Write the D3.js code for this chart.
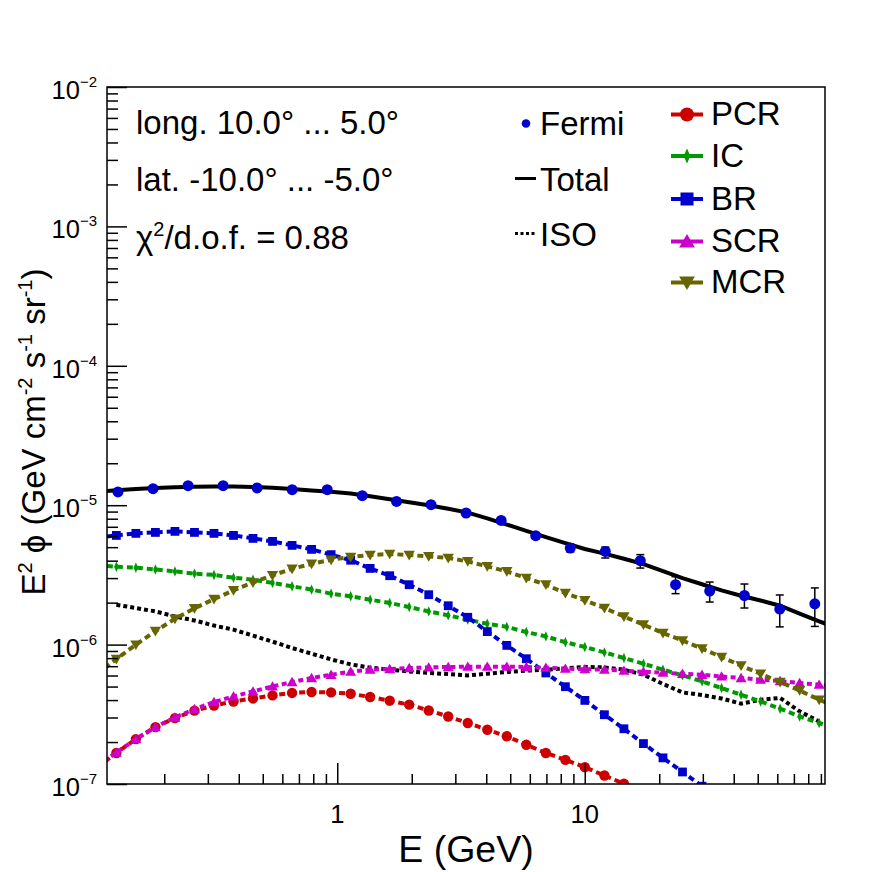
<!DOCTYPE html>
<html><head><meta charset="utf-8">
<script src="https://cdn.jsdelivr.net/npm/d3@7"></script>
<style>
body{margin:0;background:#fff}
svg{display:block}
text{font-family:"Liberation Sans",Arial,Helvetica,sans-serif;fill:#000}
</style>
</head><body>
<svg id="c" width="896" height="872"></svg>
<script>
// ---------------- data ----------------
const energies = [0.1069,0.1281,0.1536,0.1842,0.2209,0.2649,0.3177,0.3809,0.4567,0.5477,0.6568,0.7876,0.9445,1.133,1.358,1.629,1.953,2.342,2.808,3.368,4.039,4.843,5.808,6.965,8.352,10.01,12.01,14.40,17.27,20.71,24.83,29.78,35.71,42.82,51.35,61.57,73.83,88.54,106.2];
const totalVals = [1.250e-5,1.281e-5,1.307e-5,1.329e-5,1.344e-5,1.355e-5,1.362e-5,1.362e-5,1.353e-5,1.335e-5,1.307e-5,1.277e-5,1.248e-5,1.211e-5,1.160e-5,1.102e-5,1.049e-5,9.98e-6,9.42e-6,8.85e-6,8.04e-6,7.26e-6,6.54e-6,5.91e-6,5.34e-6,4.85e-6,4.49e-6,4.13e-6,3.78e-6,3.36e-6,3.00e-6,2.71e-6,2.45e-6,2.24e-6,2.07e-6,1.90e-6,1.67e-6,1.47e-6,1.30e-6];
const isoVals = [null,1.93e-6,1.83e-6,1.73e-6,1.59e-6,1.49e-6,1.37e-6,1.28e-6,1.16e-6,1.05e-6,9.45e-7,8.61e-7,7.83e-7,7.21e-7,6.83e-7,6.61e-7,6.42e-7,6.26e-7,6.15e-7,6.01e-7,6.18e-7,6.36e-7,6.50e-7,6.61e-7,6.75e-7,6.91e-7,6.86e-7,6.61e-7,6.08e-7,5.22e-7,4.54e-7,4.35e-7,4.11e-7,3.77e-7,4.02e-7,4.14e-7,3.32e-7,2.81e-7,null];
const pcrVals = [1.31e-7,1.67e-7,2.10e-7,2.56e-7,2.97e-7,3.36e-7,3.66e-7,3.91e-7,4.11e-7,4.32e-7,4.50e-7,4.57e-7,4.54e-7,4.44e-7,4.21e-7,3.96e-7,3.71e-7,3.37e-7,3.05e-7,2.74e-7,2.45e-7,2.20e-7,1.91e-7,1.67e-7,1.49e-7,1.32e-7,1.15e-7,1.005e-7,8.81e-8,7.72e-8,null,null,null,null,null,null,null,null,null];
const icVals = [3.72e-6,3.62e-6,3.56e-6,3.46e-6,3.35e-6,3.23e-6,3.16e-6,3.02e-6,2.92e-6,2.77e-6,2.62e-6,2.48e-6,2.32e-6,2.22e-6,2.10e-6,1.99e-6,1.86e-6,1.73e-6,1.62e-6,1.51e-6,1.41e-6,1.34e-6,1.23e-6,1.145e-6,1.04e-6,9.61e-7,8.79e-7,8.01e-7,7.29e-7,6.61e-7,6.01e-7,5.45e-7,4.88e-7,4.37e-7,3.91e-7,3.47e-7,3.05e-7,2.74e-7,2.45e-7];
const brVals = [5.87e-6,6.07e-6,6.28e-6,6.38e-6,6.49e-6,6.38e-6,6.28e-6,6.07e-6,5.78e-6,5.50e-6,5.15e-6,4.82e-6,4.42e-6,4.03e-6,3.52e-6,3.12e-6,2.69e-6,2.28e-6,1.90e-6,1.57e-6,1.24e-6,9.87e-7,7.92e-7,6.26e-7,4.99e-7,3.98e-7,3.14e-7,2.49e-7,1.95e-7,1.54e-7,1.22e-7,9.64e-8,7.72e-8,null,null,null,null,null,null];
const scrVals = [1.35e-7,1.68e-7,2.10e-7,2.56e-7,3.00e-7,3.45e-7,3.87e-7,4.25e-7,4.62e-7,5.01e-7,5.39e-7,5.76e-7,6.08e-7,6.39e-7,6.61e-7,6.68e-7,6.79e-7,6.86e-7,6.91e-7,6.94e-7,6.94e-7,6.94e-7,6.91e-7,6.83e-7,6.72e-7,6.66e-7,6.61e-7,6.50e-7,6.39e-7,6.29e-7,6.18e-7,6.08e-7,5.91e-7,5.76e-7,5.60e-7,5.48e-7,5.30e-7,5.16e-7,4.99e-7];
const mcrVals = [6.13e-7,7.88e-7,9.98e-7,1.25e-6,1.53e-6,1.82e-6,2.12e-6,2.45e-6,2.79e-6,3.14e-6,3.50e-6,3.79e-6,4.06e-6,4.25e-6,4.39e-6,4.47e-6,4.39e-6,4.29e-6,4.18e-6,3.95e-6,3.64e-6,3.35e-6,3.00e-6,2.69e-6,2.34e-6,2.08e-6,1.83e-6,1.59e-6,1.39e-6,1.21e-6,1.07e-6,9.35e-7,8.15e-7,7.06e-7,6.18e-7,5.39e-7,4.69e-7,4.02e-7,3.53e-7];

const fermiE = [0.1300,0.1802,0.2496,0.3458,0.4746,0.6577,0.911,1.262,1.736,2.393,3.316,4.595,6.337,8.738,12.11,16.77,23.28,31.98,44.18,61.38,85.04];
const fermiVals = [1.244e-5,1.314e-5,1.380e-5,1.380e-5,1.329e-5,1.292e-5,1.292e-5,1.170e-5,1.065e-5,1.008e-5,8.79e-6,7.78e-6,6.04e-6,4.93e-6,4.66e-6,4.00e-6,2.69e-6,2.42e-6,2.25e-6,1.80e-6,1.96e-6];
const fermiLo = [1.22e-5,1.29e-5,1.355e-5,1.355e-5,1.305e-5,1.265e-5,1.265e-5,1.145e-5,1.04e-5,9.8e-6,8.5e-6,7.5e-6,5.75e-6,4.62e-6,4.18e-6,3.54e-6,2.32e-6,2.02e-6,1.83e-6,1.34e-6,1.35e-6];
const fermiHi = [1.27e-5,1.34e-5,1.405e-5,1.405e-5,1.355e-5,1.32e-5,1.32e-5,1.195e-5,1.09e-5,1.036e-5,9.08e-6,8.06e-6,6.33e-6,5.27e-6,5.01e-6,4.42e-6,3.07e-6,2.81e-6,2.72e-6,2.27e-6,2.55e-6];

const yMajorTicks = [1e-7,1e-6,1e-5,1e-4,1e-3,1e-2];
const yTickExponents = ["\u22127","\u22126","\u22125","\u22124","\u22123","\u22122"];
const xMajorTicks = [1,10];
const xTickLabels = ["1","10"];

const infoLines = ["long. 10.0\u00b0 ... 5.0\u00b0","lat. -10.0\u00b0 ... -5.0\u00b0"];
const chiText = "0.88";
const leftLegend = ["Fermi","Total","ISO"];
const compNames = ["PCR","IC","BR","SCR","MCR"];
const compColors = ["#cc0000","#009900","#0000cc","#cc00cc","#666600"];

// ---------------- layout ----------------
const W = 896, H = 872;
const P = {left:107, right:825, top:87, bottom:784};
const x = d3.scaleLog().domain([0.1174, 93.5]).range([P.left, P.right]);
const y = d3.scaleLog().domain([1e-7, 1e-2]).range([P.bottom, P.top]);

const svg = d3.select("#c");
svg.append("rect").attr("width", W).attr("height", H).attr("fill", "#fff");
svg.append("defs").append("clipPath").attr("id", "clip")
  .append("rect").attr("x", P.left).attr("y", P.top)
  .attr("width", P.right - P.left).attr("height", P.bottom - P.top);

function markerPath(type, s) {
  const p = d3.path();
  if (type === "circle") { p.arc(0, 0, s, 0, 2 * Math.PI); }
  else if (type === "square") { p.rect(-s, -s, 2 * s, 2 * s); }
  else if (type === "triUp") { p.moveTo(0, -s); p.lineTo(s * 1.05, s * 0.8); p.lineTo(-s * 1.05, s * 0.8); p.closePath(); }
  else if (type === "triDown") { p.moveTo(0, s); p.lineTo(s * 1.05, -s * 0.8); p.lineTo(-s * 1.05, -s * 0.8); p.closePath(); }
  else if (type === "diamond") { p.moveTo(0, -s); p.lineTo(s * 0.45, 0); p.lineTo(0, s); p.lineTo(-s * 0.45, 0); p.closePath(); }
  return p.toString();
}

const comps = [
  {vals: pcrVals, color: compColors[0], m: "circle", s: 5.2, ls: 7, dash: "6,4"},
  {vals: icVals,  color: compColors[1], m: "diamond", s: 5.2, ls: 7.5, dash: "6,4"},
  {vals: brVals,  color: compColors[2], m: "square", s: 4.4, ls: 6.5, dash: "6,4"},
  {vals: scrVals, color: compColors[3], m: "triUp", s: 5.2, ls: 7.5, dash: "5,3.5"},
  {vals: mcrVals, color: compColors[4], m: "triDown", s: 5.4, ls: 7.5, dash: "6,4"}
];

const plotG = svg.append("g").attr("clip-path", "url(#clip)");
const line = d3.line().defined(d => d[1] != null).x(d => x(d[0])).y(d => y(d[1]));

// ISO
plotG.append("path")
  .attr("d", line(energies.map((e, i) => [e, isoVals[i]])))
  .attr("fill", "none").attr("stroke", "#000").attr("stroke-width", 4)
  .attr("stroke-dasharray", "4,3");

// components
comps.forEach(c => {
  const pts = energies.map((e, i) => [e, c.vals[i]]);
  plotG.append("path").attr("d", line(pts))
    .attr("fill", "none").attr("stroke", c.color).attr("stroke-width", 4)
    .attr("stroke-dasharray", c.dash);
  plotG.selectAll(null).data(pts.filter(d => d[1] != null)).enter()
    .append("path")
    .attr("transform", d => `translate(${x(d[0])},${y(d[1])})`)
    .attr("d", markerPath(c.m, c.s))
    .attr("fill", c.color);
});

// Total
plotG.append("path")
  .attr("d", line(energies.map((e, i) => [e, totalVals[i]])))
  .attr("fill", "none").attr("stroke", "#000").attr("stroke-width", 4);

// Fermi with error bars
const fG = plotG.append("g");
fermiE.forEach((e, i) => {
  const cx = x(e), yl = y(fermiLo[i]), yh = y(fermiHi[i]);
  fG.append("line").attr("x1", cx).attr("x2", cx).attr("y1", yl).attr("y2", yh)
    .attr("stroke", "#000").attr("stroke-width", 1.5);
  [yl, yh].forEach(yy => fG.append("line").attr("x1", cx - 4).attr("x2", cx + 4)
    .attr("y1", yy).attr("y2", yy).attr("stroke", "#000").attr("stroke-width", 1.5));
});
fG.selectAll(null).data(fermiE).enter().append("circle")
  .attr("cx", d => x(d)).attr("cy", (d, i) => y(fermiVals[i])).attr("r", 5.5)
  .attr("fill", "#0000cc");

// ---------------- axes ----------------
const yMinor = [];
for (let e = -7; e < -2; e++) for (let m = 2; m <= 9; m++) yMinor.push(m * Math.pow(10, e));
const xMinor = [];
[0.1, 1, 10].forEach(d => { for (let m = 2; m <= 9; m++) { const v = m * d; if (v > 0.1174 && v < 93.5) xMinor.push(v); } });

const axG = svg.append("g");
function styleAxis(g) {
  g.selectAll(".domain").remove();
  g.selectAll(".tick line").attr("stroke", "#000").attr("stroke-width", 1.5);
  g.selectAll("text").remove();
}
axG.append("g").attr("transform", `translate(${P.left},0)`)
  .call(d3.axisLeft(y).tickValues(yMajorTicks).tickSize(-20).tickFormat("")).call(styleAxis);
axG.append("g").attr("transform", `translate(${P.left},0)`)
  .call(d3.axisLeft(y).tickValues(yMinor).tickSize(-11).tickFormat("")).call(styleAxis);
axG.append("g").attr("transform", `translate(0,${P.bottom})`)
  .call(d3.axisBottom(x).tickValues(xMajorTicks).tickSize(-21).tickFormat("")).call(styleAxis);
axG.append("g").attr("transform", `translate(0,${P.bottom})`)
  .call(d3.axisBottom(x).tickValues(xMinor).tickSize(-10).tickFormat("")).call(styleAxis);

svg.append("rect").attr("x", P.left).attr("y", P.top)
  .attr("width", P.right - P.left).attr("height", P.bottom - P.top)
  .attr("fill", "none").attr("stroke", "#000").attr("stroke-width", 1.5);

yMajorTicks.forEach((v, i) => {
  const t = svg.append("text").attr("x", 97).attr("y", y(v) + 12)
    .attr("text-anchor", "end").attr("font-size", 25.5).text("10");
  t.append("tspan").attr("dy", -12).attr("font-size", 15).text(yTickExponents[i]);
});
xMajorTicks.forEach((v, i) => {
  svg.append("text").attr("x", x(v)).attr("y", 823)
    .attr("text-anchor", "middle").attr("font-size", 25.5).text(xTickLabels[i]);
});

svg.append("text").attr("x", (P.left + P.right) / 2).attr("y", 862)
  .attr("text-anchor", "middle").attr("font-size", 37.5).text("E (GeV)");
const yt = svg.append("text").attr("transform", "translate(45,432) rotate(-90)")
  .attr("text-anchor", "middle").attr("font-size", 33);
yt.append("tspan").text("E");
yt.append("tspan").attr("dy", -13).attr("font-size", 20).text("2");
yt.append("tspan").attr("dy", 13).text(" \u03d5 (GeV cm");
yt.append("tspan").attr("dy", -13).attr("font-size", 20).text("-2");
yt.append("tspan").attr("dy", 13).text(" s");
yt.append("tspan").attr("dy", -13).attr("font-size", 20).text("-1");
yt.append("tspan").attr("dy", 13).text(" sr");
yt.append("tspan").attr("dy", -13).attr("font-size", 20).text("-1");
yt.append("tspan").attr("dy", 13).text(")");

svg.append("text").attr("x", 136).attr("y", 134).attr("font-size", 33).text(infoLines[0]);
svg.append("text").attr("x", 136).attr("y", 191).attr("font-size", 33).text(infoLines[1]);
const ct = svg.append("text").attr("x", 136).attr("y", 249).attr("font-size", 33);
ct.append("tspan").text("\u03c7");
ct.append("tspan").attr("dy", -13).attr("font-size", 20).text("2");
ct.append("tspan").attr("dy", 13).text("/d.o.f. = " + chiText);

const lg = svg.append("g");
lg.append("circle").attr("cx", 526).attr("cy", 123.5).attr("r", 4.3).attr("fill", "#0000cc");
lg.append("text").attr("x", 540).attr("y", 135).attr("font-size", 33).text(leftLegend[0]);
lg.append("line").attr("x1", 515).attr("x2", 536).attr("y1", 178.5).attr("y2", 178.5)
  .attr("stroke", "#000").attr("stroke-width", 3);
lg.append("text").attr("x", 540).attr("y", 191).attr("font-size", 33).text(leftLegend[1]);
lg.append("line").attr("x1", 515).attr("x2", 537).attr("y1", 233.5).attr("y2", 233.5)
  .attr("stroke", "#000").attr("stroke-width", 3).attr("stroke-dasharray", "3,2.5");
lg.append("text").attr("x", 540).attr("y", 246).attr("font-size", 33).text(leftLegend[2]);

const legY = [114.5, 156, 199, 241.5, 282.5];
comps.forEach((c, i) => {
  lg.append("line").attr("x1", 671).attr("x2", 703).attr("y1", legY[i]).attr("y2", legY[i])
    .attr("stroke", c.color).attr("stroke-width", 4);
  lg.append("path").attr("transform", `translate(687,${legY[i]})`)
    .attr("d", markerPath(c.m, c.ls)).attr("fill", c.color);
  lg.append("text").attr("x", 711).attr("y", legY[i] + 10.5).attr("font-size", 33).text(compNames[i]);
});
</script>
</body></html>
